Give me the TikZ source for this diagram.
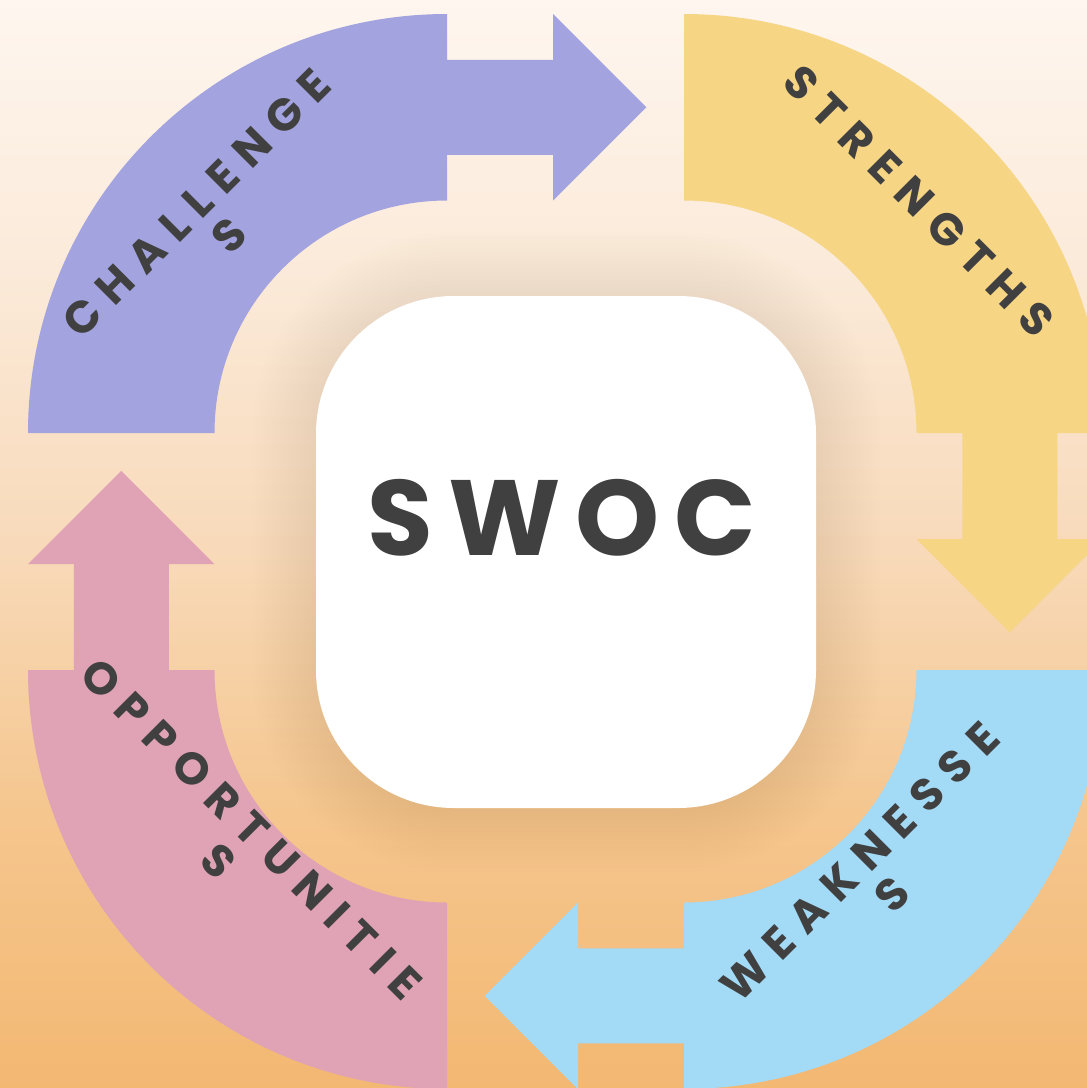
\documentclass[tikz,border=0pt]{standalone}
\usepackage{fontspec}
\newfontfamily\poplbl{Poppins}[LetterSpace=27]
\newfontfamily\popbig{Poppins}[LetterSpace=14]
\definecolor{bgtop}{HTML}{FEF6EF}
\definecolor{bgfour}{HTML}{FBEAD9}
\definecolor{bgthree}{HTML}{F8DABA}
\definecolor{bgtwo}{HTML}{F5C68E}
\definecolor{bgbot}{HTML}{F3B872}
\definecolor{chcol}{HTML}{A3A3E0}
\definecolor{stcol}{HTML}{F6D584}
\definecolor{wkcol}{HTML}{A3DAF6}
\definecolor{opcol}{HTML}{E0A3B5}
\definecolor{txt}{HTML}{404040}
\definecolor{shadowc}{HTML}{A07858}
\pgfdeclareverticalshading{bgshade}{100bp}{color(0bp)=(bgbot); color(25bp)=(bgbot); color(37.5bp)=(bgtwo); color(50bp)=(bgthree); color(62.5bp)=(bgfour); color(75bp)=(bgtop); color(100bp)=(bgtop)}
\begin{document}
\begin{tikzpicture}[x=0.5pt,y=-0.5pt,
  lbl/.style={text=txt, font=\poplbl\bfseries\fontsize{22.5}{23}\selectfont, align=center, inner sep=0pt},
  big/.style={text=txt, font=\popbig\bfseries\fontsize{53.5}{60}\selectfont, inner sep=0pt},
  centerbox/.style={fill=white, rounded corners=69pt, minimum width=250pt, minimum height=256pt, inner sep=0pt}]
\useasboundingbox (0,0) rectangle (1087,1088);
\fill[shading=bgshade] (0,0) rectangle (1087,1088);
% arrows
\fill[chcol] (28,433) arc[start angle=180, end angle=270, radius=419] -- (447,59.75) -- (553,59.75) -- (553,14) -- (646.25,107.25) -- (553,200.5) -- (553,154.75) -- (447,154.75) -- (447,200.5) arc[start angle=270, end angle=180, radius=232.5] -- cycle;
\fill[stcol] (684,14) arc[start angle=270, end angle=360, radius=419] -- (1057.25,433) -- (1057.25,539) -- (1103,539) -- (1009.75,632.25) -- (916.5,539) -- (962.25,539) -- (962.25,433) -- (916.5,433) arc[start angle=0, end angle=-90, radius=232.5] -- cycle;
\fill[wkcol] (1103,670) arc[start angle=0, end angle=90, radius=419] -- (684,1043.25) -- (578,1043.25) -- (578,1089) -- (484.75,995.75) -- (578,902.5) -- (578,948.25) -- (684,948.25) -- (684,902.5) arc[start angle=90, end angle=0, radius=232.5] -- cycle;
\fill[opcol] (447,1089) arc[start angle=90, end angle=180, radius=419] -- (73.75,670) -- (73.75,564) -- (28,564) -- (121.25,470.75) -- (214.5,564) -- (168.75,564) -- (168.75,670) -- (214.5,670) arc[start angle=180, end angle=90, radius=232.5] -- cycle;
% soft shadow
\foreach \k in {1,...,16}{
  \pgfmathsetmacro{\rr}{69+2*\k}
  \fill[shadowc, fill opacity=0.009, rounded corners=\rr pt] (316-4*\k,296-4*\k) rectangle (816+4*\k,808+4*\k);
}
\node[centerbox] (box) at (566,552) {};
\node[big] (swoc) at (562,517.5) {SWOC};
% labels
\node[lbl, rotate=45] (chl) at (212.75,219.5) {CHALLENGE\\S};
\node[lbl, rotate=-45] (str) at (919,201) {STRENGTHS};
\node[lbl, rotate=45] (wk) at (876,878) {WEAKNESSE\\S};
\node[lbl, rotate=-45] (op) at (235,845) {OPPORTUNITIE\\S};
\end{tikzpicture}
\end{document}
